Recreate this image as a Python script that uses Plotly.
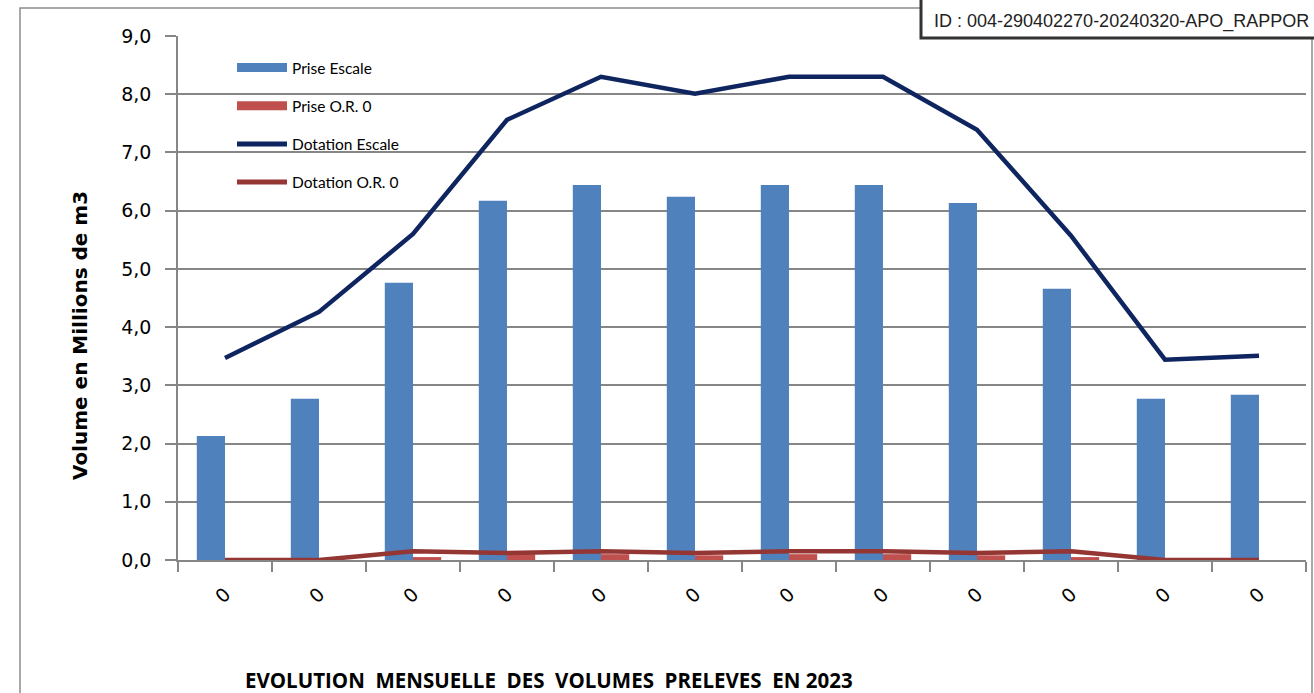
import plotly.graph_objects as go

months = ["Jan", "Fév", "Mar", "Avr", "Mai", "Juin", "Juil", "Août", "Sep", "Oct", "Nov", "Déc"]
tick_labels = ["0"] * 12
prise_escale = [2.13, 2.77, 4.76, 6.17, 6.44, 6.24, 6.44, 6.44, 6.13, 4.66, 2.77, 2.84]
prise_or = [0.0, 0.0, 0.05, 0.10, 0.10, 0.08, 0.10, 0.10, 0.08, 0.05, 0.0, 0.0]
dotation_escale = [3.47, 4.26, 5.60, 7.56, 8.30, 8.01, 8.30, 8.30, 7.39, 5.57, 3.44, 3.51]
dotation_or = [0.0, 0.0, 0.15, 0.12, 0.15, 0.12, 0.15, 0.15, 0.12, 0.15, 0.0, 0.0]

C_PE, C_PO, C_DE, C_DO = "#4F81BD", "#C0504D", "#0E2560", "#943634"

fig = go.Figure()
fig.add_trace(go.Bar(x=months, y=prise_escale, name="Prise Escale", showlegend=False,
                     marker=dict(color=C_PE, line=dict(width=0))))
fig.add_trace(go.Bar(x=months, y=prise_or, name="Prise O.R. 0", showlegend=False,
                     marker=dict(color=C_PO, line=dict(width=0))))
fig.add_trace(go.Scatter(x=months, y=dotation_escale, name="Dotation Escale", mode="lines",
                         line=dict(color=C_DE, width=4.5), showlegend=False))
fig.add_trace(go.Scatter(x=months, y=dotation_or, name="Dotation O.R. 0", mode="lines",
                         line=dict(color=C_DO, width=4.5), showlegend=False))
# legend entries (bars shown as wide rectangles like the reference)
for nm, col, w, g in [("Prise Escale", C_PE, 9, "a"), ("Prise O.R. 0", C_PO, 9, "b"),
                      ("Dotation Escale", C_DE, 5, "c"), ("Dotation O.R. 0", C_DO, 5, "d")]:
    fig.add_trace(go.Scatter(x=[None], y=[None], mode="lines", name=nm,
                             line=dict(color=col, width=w), legendgroup=g))

L, R, T, B = 178, 8, 36, 133
W, H = 1314, 693
pw, ph = W - L - R, H - T - B

def px(xp):
    return (xp - L) / pw

def py(yp):
    return (H - B - yp) / ph

fig.update_layout(
    width=W, height=H,
    margin=dict(l=L, r=R, t=T, b=B),
    plot_bgcolor="white", paper_bgcolor="white",
    barmode="group", bargap=0.4, bargroupgap=0,
    separators=", ",
    font=dict(family="DejaVu Sans", color="black"),
    legend=dict(x=px(232), y=py(51), xanchor="left", yanchor="top",
                bgcolor="rgba(0,0,0,0)", font=dict(family="Lato", size=15.5),
                tracegroupgap=15, itemwidth=50),
    showlegend=True,
    xaxis=dict(type="category", tickmode="array", tickvals=months, ticktext=tick_labels,
               tickson="boundaries", ticks="outside", ticklen=10, tickcolor="#868686",
               tickwidth=1.5, tickangle=-45, showline=True, linecolor="#868686", linewidth=1.5,
               showgrid=False, ticklabelstandoff=14,
               tickfont=dict(family="DejaVu Sans", size=19)),
    yaxis=dict(range=[0, 9], dtick=1, tickformat=".1f", ticks="outside", ticklen=11,
               tickcolor="#868686", tickwidth=1.5, showline=True, linecolor="#868686",
               linewidth=1.5, showgrid=True, gridcolor="#868686", gridwidth=1.5,
               zeroline=False, ticklabelstandoff=10,
               tickfont=dict(family="DejaVu Sans", size=19)),
)

# y-axis title
fig.add_annotation(xref="paper", yref="paper", x=px(80), y=py(336), xanchor="center",
                   yanchor="middle", showarrow=False, textangle=-90,
                   text="<b>Volume en Millions de m3</b>",
                   font=dict(family="DejaVu Sans", size=20, color="black"))
# outer chart frame
fig.add_shape(type="rect", xref="paper", yref="paper",
              x0=px(20), x1=px(1312), y0=py(705), y1=py(8),
              line=dict(color="#8C8C8C", width=1.5), fillcolor="rgba(0,0,0,0)", layer="above")
# ID box
fig.add_shape(type="rect", xref="paper", yref="paper",
              x0=px(921), x1=px(1330), y0=py(38), y1=py(-10),
              line=dict(color="#333333", width=3), fillcolor="white", layer="above")
fig.add_annotation(xref="paper", yref="paper", x=px(932), y=py(21), xanchor="left",
                   yanchor="middle", showarrow=False,
                   text="ID : 004-290402270-20240320-APO_RAPPOR",
                   font=dict(family="Liberation Sans", size=18, color="#222222"))
# bottom title
fig.add_annotation(xref="paper", yref="paper", x=px(549), y=py(680), xanchor="center",
                   yanchor="middle", showarrow=False,
                   text="<b>EVOLUTION&nbsp; MENSUELLE&nbsp; DES&nbsp; VOLUMES&nbsp; PRELEVES&nbsp; EN 2023</b>",
                   font=dict(family="Open Sans", size=20.5, color="black"))

fig.write_html("out.html", config={"displayModeBar": False},
               post_script="document.body.style.margin='0';")
